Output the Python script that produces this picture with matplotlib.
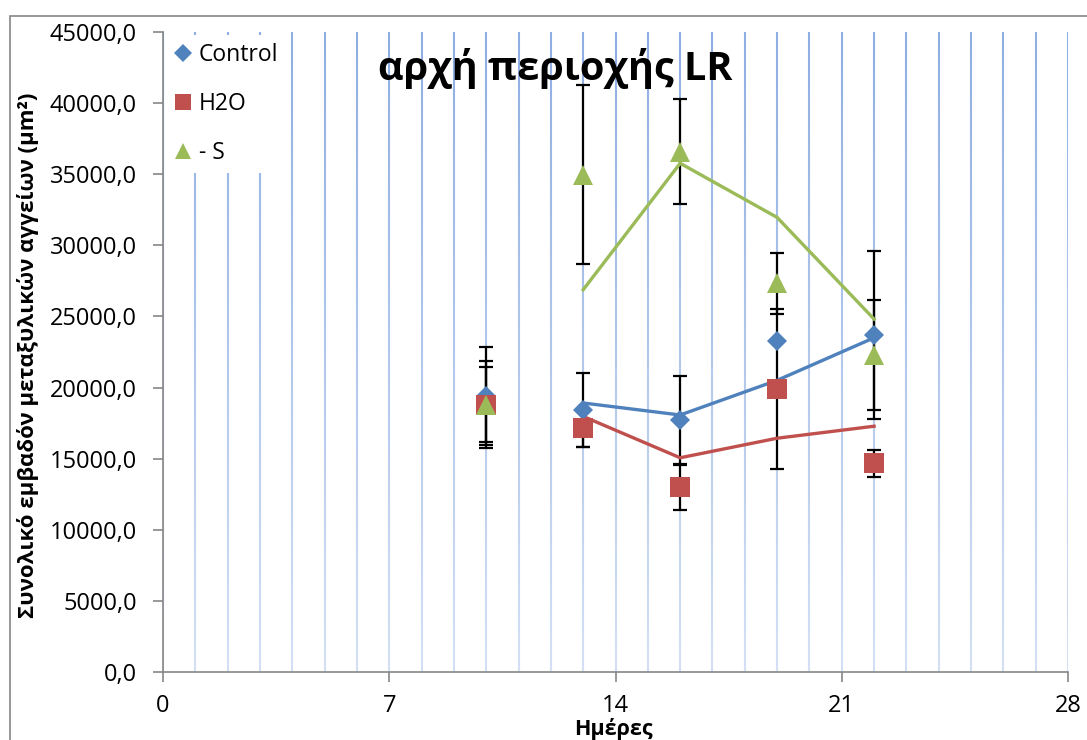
import matplotlib.pyplot as plt
import matplotlib.patches as mpatches
from matplotlib.ticker import MultipleLocator, FuncFormatter
import numpy as np
import pandas as pd

# data (days, area in um^2)
days = [10, 13, 16, 19, 22]
control = [19400, 18420, 17710, 23300, 23700]
h2o = [18800, 17130, 12980, 19880, 14670]
minus_s = [18800, 34960, 36600, 27340, 22290]
control_err = [3450, 2580, 3100, 0, 5930]
h2o_err = [3070, 1300, 1600, 5620, 950]
minus_s_err = [2650, 6300, 3700, 2150, 3900]
labels = ["Control", "H2O", "- S"]

colors = ["#4F81BD", "#C0504D", "#9BBB59"]
markers = ["D", "s", "^"]
msizes = [10.5, 14, 14]

plt.rcParams["font.family"] = ["Open Sans", "DejaVu Sans"]

fig = plt.figure(figsize=(10.87, 7.40), dpi=100)
ax = fig.add_axes([0.1500, 0.0923, 0.8325, 0.8641])

# outer chart border (clipped by figure edges like the screenshot)
fig.patches.append(mpatches.Rectangle((10 / 1087, -0.5), 2, 0.5 + 1 - 15.7 / 740,
                                      transform=fig.transFigure, fill=False,
                                      edgecolor="#868686", linewidth=1.2))

ax.set_axisbelow(True)
ax.xaxis.set_major_locator(MultipleLocator(7))
ax.xaxis.set_minor_locator(MultipleLocator(1))
ax.yaxis.set_major_locator(MultipleLocator(5000))
ax.yaxis.set_major_formatter(FuncFormatter(lambda v, p: f"{v:.1f}".replace(".", ",")))
ax.grid(axis="x", which="both", color="#8FAEE3", linewidth=1.5)
ax.tick_params(axis="x", which="minor", length=0)
ax.tick_params(which="major", length=7, width=1.2, color="#868686", labelsize=17)
ax.tick_params(axis="y", pad=12)
ax.tick_params(axis="x", pad=9)

# fade the gridlines towards the bottom
fade = np.ones((256, 1, 4))
fade[:, 0, 3] = np.linspace(0.0, 0.62, 256)
ax.imshow(fade, extent=[0, 28, 0, 45000], aspect="auto", zorder=1,
          interpolation="bilinear")
ax.set_xlim(0, 28)
ax.set_ylim(0, 45000)

for sp in ["top", "right"]:
    ax.spines[sp].set_visible(False)
for sp in ["left", "bottom"]:
    ax.spines[sp].set_color("#868686")
    ax.spines[sp].set_linewidth(1.2)

series = [control, h2o, minus_s]
errs = [control_err, h2o_err, minus_s_err]

for vals, err in zip(series, errs):
    ax.errorbar(days, vals, yerr=err, fmt="none", ecolor="black",
                elinewidth=1.6, capsize=5, capthick=1.6, zorder=3)

# 2-period moving average trend lines
for vals, c in zip(series, colors):
    ma = pd.Series(vals).rolling(2).mean()
    ax.plot(days, ma, color=c, linewidth=2.4, zorder=4)

handles = []
for vals, c, m, ms, lab in zip(series, colors, markers, msizes, labels):
    h, = ax.plot(days, vals, linestyle="none", marker=m, markersize=ms,
                 color=c, markeredgewidth=0, zorder=5, label=lab)
    handles.append(h)

leg_sizes = [9.5, 12, 12]
leg = ax.legend(handles=handles, loc="upper left", bbox_to_anchor=(0.0, 1.0),
                fontsize=16.5, frameon=True, facecolor="white", edgecolor="none",
                framealpha=1, fancybox=False, labelspacing=1.1, handlelength=0.8,
                handletextpad=0.3, borderpad=0.35, borderaxespad=0.1)
for lh, s in zip(leg.legend_handles, leg_sizes):
    lh.set_markersize(s)
leg.set_zorder(6)

ax.text(0.433, 0.944, "αρχή περιοχής LR", transform=ax.transAxes, fontsize=28.5,
        fontweight="bold", ha="center", va="center", zorder=7)

ax.set_xlabel("Ημέρες", fontsize=15.5, fontweight="bold")
ax.xaxis.set_label_coords(0.498, -0.073)
ax.set_ylabel("Συνολικό εμβαδόν μεταξυλικών αγγείων (μm²)", fontsize=16,
              fontweight="bold")
ax.yaxis.set_label_coords(-0.137, 0.495)

fig.savefig("out.png", dpi=100)
